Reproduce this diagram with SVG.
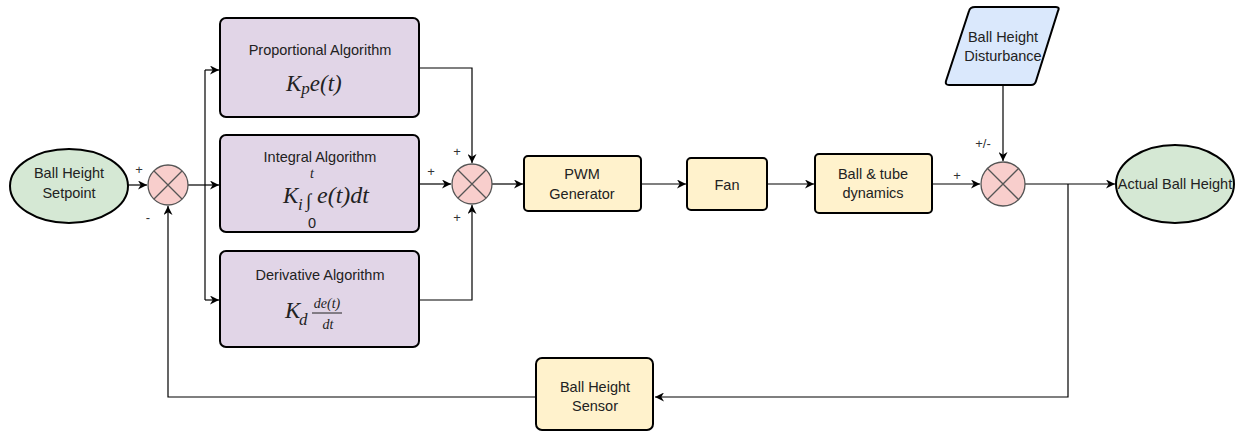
<svg xmlns="http://www.w3.org/2000/svg" width="1236" height="432" viewBox="0 0 1236 432">
<defs>
<marker id="arr" viewBox="0 0 10 10" refX="10" refY="5" markerWidth="9" markerHeight="9" markerUnits="userSpaceOnUse" orient="auto">
<path d="M0,0 L10,5 L0,10 L3,5 Z" fill="#000"/>
</marker>
<style>
.lbl{font-family:"Liberation Sans",Arial,sans-serif;font-size:14.5px;fill:#222;text-anchor:middle}
.sgn{font-family:"Liberation Sans",Arial,sans-serif;font-size:13px;fill:#333;text-anchor:middle}
.mth{font-family:"Liberation Serif","Times New Roman",serif;font-style:italic;fill:#222}
.up{font-style:normal}
.box{stroke:#000;stroke-width:2}
.pur{fill:#e1d5e7}
.yel{fill:#fff2cc}
.grn{fill:#d5e8d4;stroke:#000;stroke-width:2}
.sum{fill:#f8cecc;stroke:#555;stroke-width:1.3}
.x{stroke:#555;stroke-width:1.3}
.cn{fill:none;stroke:#000;stroke-width:1.2}
</style>
</defs>
<g id="connectors">
<path class="cn" d="M128,185 L147,185" marker-end="url(#arr)"/>
<path class="cn" d="M188,185 L205,185"/>
<path class="cn" d="M205,185 L219,185" marker-end="url(#arr)"/>
<path class="cn" d="M205,70 L205,300"/>
<path class="cn" d="M205,70 L219,70" marker-end="url(#arr)"/>
<path class="cn" d="M205,300 L219,300" marker-end="url(#arr)"/>
<path class="cn" d="M419,68 L472,68 L472,163" marker-end="url(#arr)"/>
<path class="cn" d="M419,300 L472,300 L472,205" marker-end="url(#arr)"/>
<path class="cn" d="M419,184 L451,184" marker-end="url(#arr)"/>
<path class="cn" d="M492,184 L523,184" marker-end="url(#arr)"/>
<path class="cn" d="M641,184 L686,184" marker-end="url(#arr)"/>
<path class="cn" d="M767,184 L814,184" marker-end="url(#arr)"/>
<path class="cn" d="M932,184 L980,184" marker-end="url(#arr)"/>
<path class="cn" d="M1003,86 L1003,161" marker-end="url(#arr)"/>
<path class="cn" d="M1025,184 L1115,184" marker-end="url(#arr)"/>
<path class="cn" d="M1068,184 L1068,397 L655,397" marker-end="url(#arr)"/>
<path class="cn" d="M536,397 L168,397 L168,206" marker-end="url(#arr)"/>
</g>
<g id="setpoint">
<ellipse class="grn" cx="69" cy="186" rx="59" ry="37"/>
<text class="lbl" x="69" y="178">Ball Height</text>
<text class="lbl" x="69" y="198">Setpoint</text>
</g>
<g id="sum1">
<circle class="sum" cx="168" cy="185" r="20"/>
<path class="x" d="M154,171 L182,199 M182,171 L154,199"/>
<text class="sgn" x="139" y="174">+</text>
<text class="sgn" x="148" y="222">-</text>
</g>
<g id="proportional">
<rect class="box pur" x="220" y="18" width="199" height="99" rx="6"/>
<text class="lbl" x="320" y="55">Proportional Algorithm</text>
<text class="mth" x="286" y="91" font-size="23">K<tspan font-size="17" dy="3">p</tspan><tspan dy="-3">e(t)</tspan></text>
</g>
<g id="integral">
<rect class="box pur" x="220" y="135" width="199" height="97" rx="6"/>
<text class="lbl" x="320" y="162">Integral Algorithm</text>
<text class="mth" x="312" y="178" font-size="14" text-anchor="middle">t</text>
<text class="mth" x="283" y="203" font-size="23">K</text>
<text class="mth" x="298" y="210" font-size="17">i</text>
<text class="mth up" x="306" y="207" font-size="19">∫</text>
<text class="mth" x="317" y="203" font-size="24">e(t)dt</text>
<text class="lbl" x="312" y="228" font-size="14">0</text>
</g>
<g id="derivative">
<rect class="box pur" x="220" y="251" width="199" height="96" rx="6"/>
<text class="lbl" x="320" y="280">Derivative Algorithm</text>
<text class="mth" x="285" y="318" font-size="23">K</text>
<text class="mth" x="299" y="325" font-size="17">d</text>
<text class="mth" x="327" y="308" font-size="14" text-anchor="middle">de(t)</text>
<line x1="312" y1="313" x2="342" y2="313" stroke="#222" stroke-width="1"/>
<text class="mth" x="328" y="329" font-size="14" text-anchor="middle">dt</text>
</g>
<g id="sum2">
<circle class="sum" cx="472" cy="184" r="20"/>
<path class="x" d="M458,170 L486,198 M486,170 L458,198"/>
<text class="sgn" x="431" y="176">+</text>
<text class="sgn" x="457" y="156">+</text>
<text class="sgn" x="457" y="222">+</text>
</g>
<g id="pwm">
<rect class="box yel" x="524" y="156" width="117" height="55" rx="4"/>
<text class="lbl" x="582" y="179">PWM</text>
<text class="lbl" x="582" y="199">Generator</text>
</g>
<g id="fan">
<rect class="box yel" x="687" y="158" width="80" height="52" rx="4"/>
<text class="lbl" x="727" y="190">Fan</text>
</g>
<g id="balltube">
<rect class="box yel" x="815" y="154" width="117" height="59" rx="4"/>
<text class="lbl" x="873" y="179">Ball &amp; tube</text>
<text class="lbl" x="873" y="198">dynamics</text>
</g>
<g id="sum3">
<circle class="sum" cx="1003" cy="184" r="22"/>
<path class="x" d="M987,168 L1019,200 M1019,168 L987,200"/>
<text class="sgn" x="957" y="180">+</text>
<text class="sgn" x="983" y="148">+/-</text>
</g>
<g id="disturbance">
<path d="M975,7 L1056,7 Q1060,7 1058,11 L1036,81 Q1035,85 1031,85 L949,85 Q945,85 946,81 L969,11 Q970,7 975,7 Z" fill="#dae8fc" stroke="#000" stroke-width="2"/>
<text class="lbl" x="1003" y="42">Ball Height</text>
<text class="lbl" x="1003" y="61">Disturbance</text>
</g>
<g id="actual">
<ellipse class="grn" cx="1175" cy="184" rx="59" ry="39"/>
<text class="lbl" x="1175" y="189">Actual Ball Height</text>
</g>
<g id="sensor">
<rect class="box yel" x="536" y="358" width="117" height="72" rx="6"/>
<text class="lbl" x="595" y="392">Ball Height</text>
<text class="lbl" x="595" y="411">Sensor</text>
</g>
</svg>
